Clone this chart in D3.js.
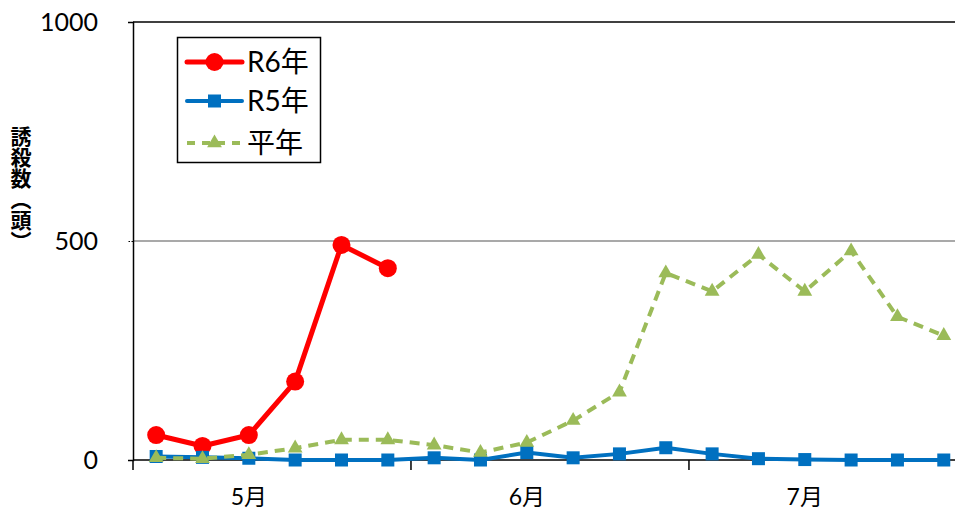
<!DOCTYPE html>
<html lang="ja">
<head>
<meta charset="utf-8">
<script src="https://cdn.jsdelivr.net/npm/d3@7"></script>
<style>
  html, body { margin: 0; padding: 0; background: #fff; }
  svg { display: block; font-family: "Lato", "Noto Sans CJK JP", sans-serif; }
</style>
</head>
<body>
<svg id="chart" width="955" height="511"></svg>
<script>
// Half-month sampling points, May through July (18 periods)
const periods = d3.range(18);
const periodLabels = ["", "", "5月", "", "", "", "", "", "6月", "", "", "", "", "", "7月", "", "", ""];

// Trap catches per period
const r6 = [57, 32, 57, 179, 491, 438];
const r5 = [8, 6, 4, 0, 0, 0, 5, 0, 17, 5, 14, 28, 14, 3, 1, 0, 0, 0];
const normal = [5, 3, 12, 27, 46, 46, 34, 17, 40, 90, 155, 427, 385, 469, 385, 477, 327, 284];

const yTicks = [0, 500, 1000];
const legendNames = ["R6年", "R5年", "平年"];

const svg = d3.select("#chart");
const plotLeft = 133, plotTop = 22, plotBottom = 460;
const step = 46.33;

const x = d3.scaleBand().domain(periods).range([plotLeft, plotLeft + step * periods.length]).padding(0);
const cx = i => x(i) + x.bandwidth() / 2;
const y = d3.scaleLinear().domain([0, 1000]).range([plotBottom, plotTop]);

// Gridline at 500 and top border
svg.append("line")
  .attr("x1", plotLeft).attr("x2", 955).attr("y1", y(500)).attr("y2", y(500))
  .attr("stroke", "#8c8c8c").attr("stroke-width", 1.3);
svg.append("line")
  .attr("x1", plotLeft).attr("x2", 955).attr("y1", y(1000)).attr("y2", y(1000))
  .attr("stroke", "#000").attr("stroke-width", 1.5);

// Y axis
const yAxis = svg.append("g")
  .attr("transform", `translate(${plotLeft},0)`)
  .call(d3.axisLeft(y).tickValues(yTicks).tickFormat(d3.format("d")).tickSize(5).tickPadding(30));
yAxis.select(".domain").attr("stroke", "#000").attr("stroke-width", 1.5);
yAxis.selectAll(".tick line").attr("stroke", "#000").attr("stroke-dasharray", "1.5,1.5");
yAxis.selectAll(".tick text").attr("font-size", 25).attr("fill", "#000")
  .attr("font-family", "Lato, sans-serif");

// X axis with month boundaries every 6 periods
const xAxis = svg.append("g").attr("transform", `translate(0,${plotBottom})`);
xAxis.append("line")
  .attr("x1", plotLeft).attr("x2", 955).attr("stroke", "#000").attr("stroke-width", 1.5);
xAxis.selectAll(".bound").data([0, 6, 12]).join("line")
  .attr("class", "bound")
  .attr("x1", d => x(d)).attr("x2", d => x(d))
  .attr("y1", 0).attr("y2", 10)
  .attr("stroke", "#000").attr("stroke-width", 1.5);
xAxis.selectAll(".mlabel").data(periods.filter(i => periodLabels[i])).join("text")
  .attr("class", "mlabel")
  .attr("x", d => cx(d)).attr("y", 45)
  .attr("text-anchor", "middle")
  .attr("font-size", 23)
  .text(d => periodLabels[d]);

// Y axis title
svg.append("text")
  .attr("x", 21).attr("y", 126)
  .style("writing-mode", "vertical-rl")
  .attr("font-size", 21).attr("font-weight", "bold")
  .attr("font-family", "'Noto Sans CJK JP', sans-serif")
  .text("誘殺数（頭）");

const line = d3.line().x((d, i) => cx(i)).y(d => y(d));

// R6
svg.append("path").datum(r6)
  .attr("d", line).attr("fill", "none")
  .attr("stroke", "#ff0000").attr("stroke-width", 5).attr("stroke-linejoin", "round");
svg.selectAll(".r6pt").data(r6).join("circle")
  .attr("cx", (d, i) => cx(i)).attr("cy", d => y(d)).attr("r", 9)
  .attr("fill", "#ff0000");

// R5
svg.append("path").datum(r5)
  .attr("d", line).attr("fill", "none")
  .attr("stroke", "#0070c0").attr("stroke-width", 4).attr("stroke-linejoin", "round");
svg.selectAll(".r5pt").data(r5).join("rect")
  .attr("x", (d, i) => cx(i) - 6.5).attr("y", d => y(d) - 6.5)
  .attr("width", 13).attr("height", 13)
  .attr("fill", "#0070c0");

// Normal year
const tri = d3.symbol().type(d3.symbolTriangle).size(95);
svg.append("path").datum(normal)
  .attr("d", line).attr("fill", "none")
  .attr("stroke", "#9bbb59").attr("stroke-width", 4)
  .attr("stroke-dasharray", "10,7");
svg.selectAll(".npt").data(normal).join("path")
  .attr("d", tri)
  .attr("transform", (d, i) => `translate(${cx(i)},${y(d)})`)
  .attr("fill", "#9bbb59");

// Legend
const lg = svg.append("g");
lg.append("rect")
  .attr("x", 177.5).attr("y", 37.5).attr("width", 143).attr("height", 125)
  .attr("fill", "#fff").attr("stroke", "#000").attr("stroke-width", 1.5);
const rows = [62, 101, 143];
const lx1 = 187, lx2 = 242, lxm = 214.5;
lg.append("line").attr("x1", lx1).attr("x2", lx2).attr("y1", rows[0]).attr("y2", rows[0])
  .attr("stroke", "#ff0000").attr("stroke-width", 5).attr("stroke-linecap", "round");
lg.append("circle").attr("cx", lxm).attr("cy", rows[0]).attr("r", 9).attr("fill", "#ff0000");
lg.append("line").attr("x1", lx1).attr("x2", lx2).attr("y1", rows[1]).attr("y2", rows[1])
  .attr("stroke", "#0070c0").attr("stroke-width", 4).attr("stroke-linecap", "round");
lg.append("rect").attr("x", lxm - 6.5).attr("y", rows[1] - 6.5).attr("width", 13).attr("height", 13)
  .attr("fill", "#0070c0");
lg.append("line").attr("x1", lx1).attr("x2", lx2).attr("y1", rows[2]).attr("y2", rows[2])
  .attr("stroke", "#9bbb59").attr("stroke-width", 4).attr("stroke-dasharray", "8,7");
lg.append("path").attr("d", tri).attr("transform", `translate(${lxm},${rows[2]})`)
  .attr("fill", "#9bbb59");
lg.selectAll(".ltext").data(legendNames).join("text")
  .attr("x", 247).attr("y", (d, i) => rows[i])
  .attr("dy", "0.36em")
  .attr("font-size", 28)
  .text(d => d);
</script>
</body>
</html>
